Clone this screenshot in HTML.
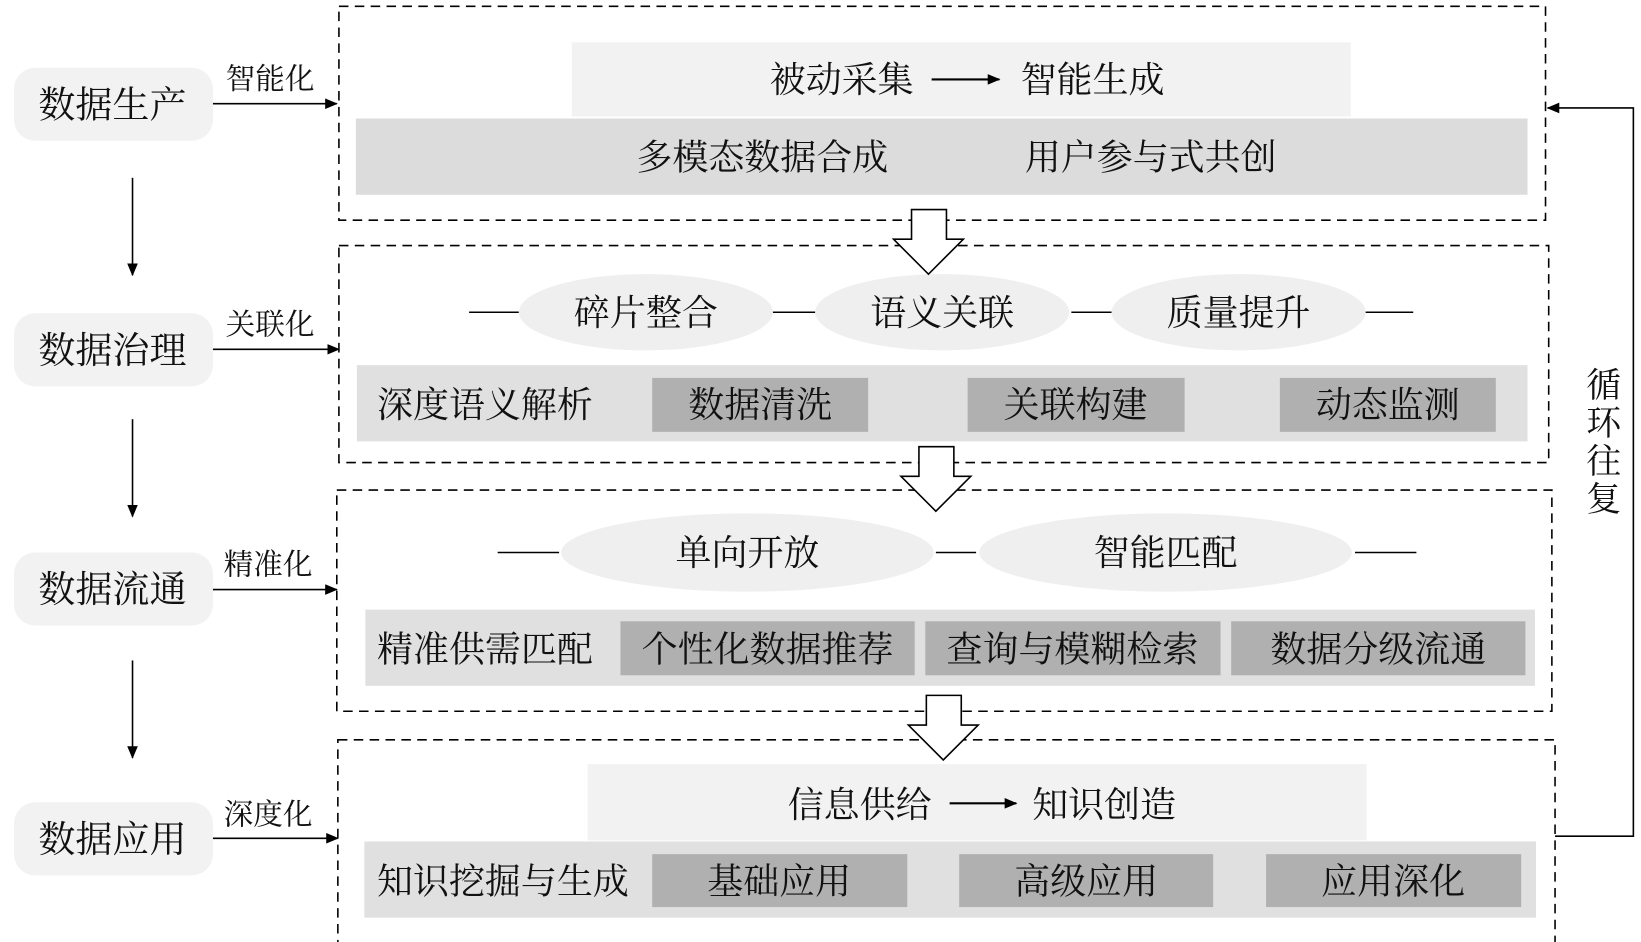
<!DOCTYPE html>
<html><head><meta charset="utf-8"><style>html,body{margin:0;padding:0;background:#fff}svg{display:block}</style></head>
<body>
<svg width="1641" height="942" viewBox="0 0 1550 890" xmlns="http://www.w3.org/2000/svg" font-family="'Liberation Serif','Noto Serif CJK SC',serif">
<defs><marker id="a" markerWidth="12" markerHeight="10" refX="11" refY="5" orient="auto" markerUnits="userSpaceOnUse"><path d="M0,0 L12,5 L0,10 z" fill="#000"/></marker></defs>
<g fill="none" stroke="#000" stroke-width="1.5" stroke-dasharray="9,6">
<rect x="320" y="6" width="1140" height="202"/>
<rect x="320" y="232" width="1143" height="205"/>
<rect x="318" y="463" width="1148" height="209"/>
<rect x="319" y="699" width="1150" height="194"/>
</g>
<rect x="540" y="40" width="736" height="70" fill="#f2f2f2"/>
<rect x="336" y="112" width="1107" height="72" fill="#dcdcdc"/>
<g font-size="34" text-anchor="middle" fill="#111">
<text x="795" y="87">被动采集</text><text x="1032" y="87">智能生成</text>
<text x="720" y="160">多模态数据合成</text><text x="1087" y="160">用户参与式共创</text>
</g>
<line x1="880" y1="75" x2="944" y2="75" stroke="#000" stroke-width="2" marker-end="url(#a)"/>
<g stroke="#000" stroke-width="1.5"><line x1="443" y1="295" x2="490" y2="295"/><line x1="730" y1="295" x2="770" y2="295"/><line x1="1012" y1="295" x2="1050" y2="295"/><line x1="1290" y1="295" x2="1335" y2="295"/>
<line x1="470" y1="522" x2="528" y2="522"/><line x1="884" y1="522" x2="922" y2="522"/><line x1="1280" y1="522" x2="1338" y2="522"/></g>
<g fill="#efefef"><ellipse cx="610" cy="295" rx="120" ry="36"/><ellipse cx="890" cy="295" rx="120" ry="36"/><ellipse cx="1170" cy="295" rx="120" ry="36"/>
<ellipse cx="706" cy="522" rx="176" ry="37"/><ellipse cx="1101" cy="522" rx="176" ry="37"/></g>
<rect x="337" y="345" width="1106" height="72" fill="#e0e0e0"/>
<g fill="#b0b0b0"><rect x="616" y="357" width="204" height="51"/><rect x="914" y="357" width="205" height="51"/><rect x="1209" y="357" width="204" height="51"/></g>
<rect x="345" y="576" width="1105" height="72" fill="#e0e0e0"/>
<g fill="#b0b0b0"><rect x="586" y="587" width="278" height="51"/><rect x="874" y="587" width="279" height="51"/><rect x="1163" y="587" width="278" height="51"/></g>
<rect x="555" y="722" width="736" height="72" fill="#f2f2f2"/>
<rect x="344" y="795" width="1107" height="72" fill="#e0e0e0"/>
<g fill="#b0b0b0"><rect x="616" y="807" width="241" height="50"/><rect x="906" y="807" width="240" height="50"/><rect x="1196" y="807" width="241" height="50"/></g>
<g font-size="34" text-anchor="middle" fill="#111">
<text x="610" y="307">碎片整合</text><text x="890" y="307">语义关联</text><text x="1170" y="307">质量提升</text>
<text x="718" y="394">数据清洗</text><text x="1016" y="394">关联构建</text><text x="1311" y="394">动态监测</text>
<text x="706" y="534">单向开放</text><text x="1101" y="534">智能匹配</text>
<text x="725" y="625">个性化数据推荐</text><text x="1013" y="625">查询与模糊检索</text><text x="1302" y="625">数据分级流通</text>
<text x="812" y="772">信息供给</text><text x="1043" y="772">知识创造</text>
<text x="736" y="844">基础应用</text><text x="1026" y="844">高级应用</text><text x="1316" y="844">应用深化</text>
</g>
<g font-size="34" fill="#111">
<text x="356" y="394">深度语义解析</text><text x="356" y="625">精准供需匹配</text><text x="356" y="844">知识挖掘与生成</text>
</g>
<line x1="897" y1="759" x2="960" y2="759" stroke="#000" stroke-width="2" marker-end="url(#a)"/>
<g fill="#fff" stroke="#000" stroke-width="1.5">
<path d="M861,198 H894 V226 H910 L877,259 L844,226 H861 Z"/>
<path d="M868,422 H901 V450 H917 L884,483 L851,450 H868 Z"/>
<path d="M875,657 H908 V685 H924 L891,718 L858,685 H875 Z"/>
</g>
<g fill="#f2f2f2"><rect x="13" y="64" width="188" height="69" rx="20"/><rect x="13" y="296" width="188" height="69" rx="20"/><rect x="13" y="522" width="188" height="69" rx="20"/><rect x="13" y="758" width="188" height="69" rx="20"/></g>
<g font-size="35" text-anchor="middle" fill="#111">
<text x="106" y="111">数据生产</text><text x="106" y="343">数据治理</text><text x="106" y="569">数据流通</text><text x="106" y="805">数据应用</text>
</g>
<g stroke="#000" stroke-width="1.5" marker-end="url(#a)">
<line x1="125" y1="168" x2="125" y2="260"/><line x1="125" y1="396" x2="125" y2="488"/><line x1="125" y1="624" x2="125" y2="716"/>
<line x1="201" y1="98" x2="318" y2="98"/><line x1="201" y1="330" x2="320" y2="330"/><line x1="201" y1="557" x2="318" y2="557"/><line x1="201" y1="792" x2="319" y2="792"/>
<polyline fill="none" points="1469,790 1543,790 1543,102 1462,102"/>
</g>
<g font-size="28" text-anchor="middle" fill="#111">
<text x="255" y="84">智能化</text><text x="255" y="316">关联化</text><text x="253" y="543">精准化</text><text x="253" y="779">深度化</text>
</g>
<g font-size="33" text-anchor="middle" fill="#111">
<text x="1515" y="375">循</text><text x="1515" y="411">环</text><text x="1515" y="447">往</text><text x="1515" y="483">复</text>
</g>
</svg>
</body></html>
